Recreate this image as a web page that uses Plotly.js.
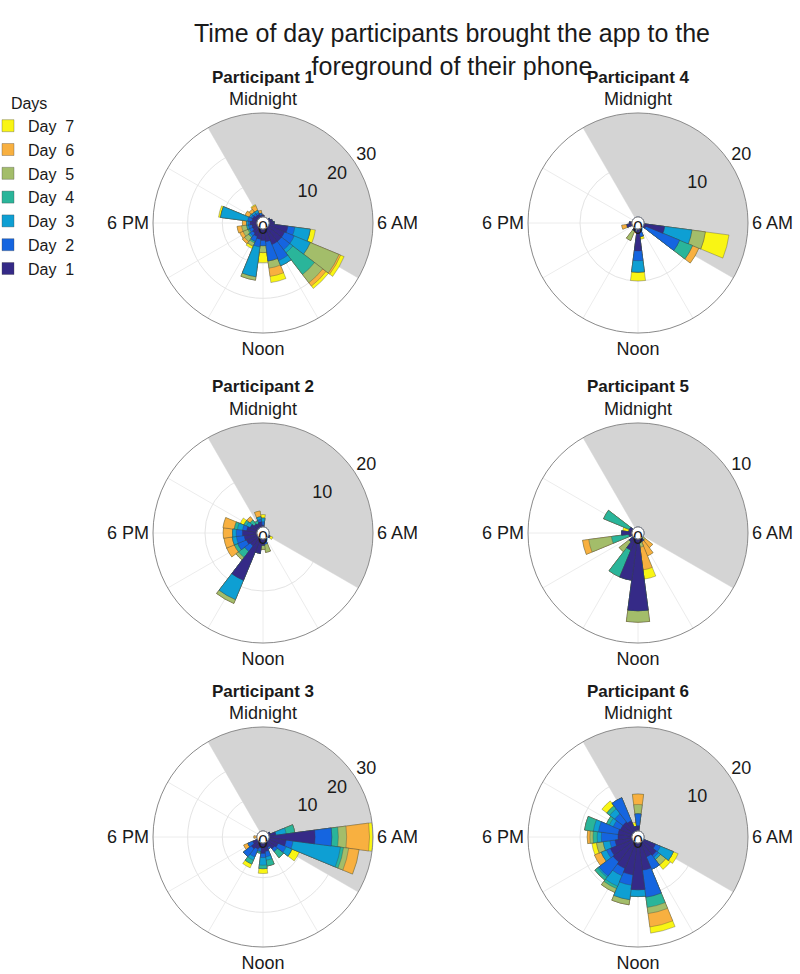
<!DOCTYPE html>
<html>
<head>
<meta charset="utf-8">
<script src="https://cdn.plot.ly/plotly-3.0.1.min.js"></script>
<style>body{margin:0;background:#fff}</style>
</head>
<body>
<div id="myDiv" style="width:800px;height:974px"></div>
<script>
// hour bins (0 = midnight), one bar per hour, stacked by day
var hours = [0,1,2,3,4,5,6,7,8,9,10,11,12,13,14,15,16,17,18,19,20,21,22,23];
var dayNames = ['Day\u00a0\u00a01','Day\u00a0\u00a02','Day\u00a0\u00a03','Day\u00a0\u00a04','Day\u00a0\u00a05','Day\u00a0\u00a06','Day\u00a0\u00a07'];
var dayColors = ['#352a87','#1565e0','#0e9fd3','#2ab59a','#a3bd6a','#f8b040','#f9f514'];
var angleTicks = [0,30,60,90,120,150,180,210,240,270,300,330];
var angleText = ['Midnight','','','6 AM','','','Noon','','','6 PM','',''];
var nightStart = 22, nightEnd = 8;   // shaded night hours
var rLabelAngle = 58;                // where the radial tick labels sit

// rows: day 1 .. day 7, columns: hour 0 .. 23
var p1 = [
  [0.5,0,0,0,0.5,1,1.5,5.5,5,5,5,3.7,3.3,3,2.5,2,1.5,1.5,2,1.5,1.5,1,1,0.5],
  [0,0,0,0,0,0,0,2,3,3,5,5.6,1.5,2.2,1.5,1,1,1,0.5,1.2,0.5,0.7,0.5,0.6],
  [0,0,0,0,0,0,0,4.5,5,1.1,1.6,0,0,8.7,0,0.5,0,0.5,0.5,7.9,0.5,0.6,0.7,0],
  [0,0,0,0,0,0,0,0,0,7.9,0,0,0,0,0.5,0,0.5,0,0,0,0,0,0,0],
  [0,0,0,0,0,0,0,0,9,3,0,2.1,2,1,1,1.5,1.5,1.5,0,0,0,0,0,0],
  [0,0,0,0,0,0,0,0,0.5,1.2,0,2.4,0,0,0,0.8,1,1.3,1.2,0,1.4,1,1.5,0.8],
  [0,0,0,0,0,0,0,1.5,1.1,0.9,0,1.8,2.9,0,0.8,0,0,0,0,0.6,0,0,0.3,0]
];
var p2 = [
  [0.3,0,0,0,0,0,0,0,0.3,0,0,0.5,1.2,2.8,8.7,2,2.3,2.5,2.8,2,1.5,1,0.8,1],
  [0.7,0,0,0,0,0,0,0,0,0,0,0.5,0,0,0,1.3,1.8,1.5,1.2,0.8,0,0,0,0.5],
  [0.7,0,0,0,0,0,0,0,0,0,0,0,0,0,4,0,0,0.8,0.7,1,0.8,0,0,0.5],
  [0,0,0,0,0,0,0,0,0,0,0,0,0,0,0,1.5,0.7,0,0,0.6,0.5,1,0.6,0],
  [0,0,0,0,0,0,0,0,0,0,0,1.6,0.8,0,0.8,0.6,0,0,0,0,0,0,0,0],
  [0,0,0,0,0,0,0,0,0,0,0,0,0,0,0,0,1.6,1.6,1.8,2.2,0,0.8,0,1.1],
  [0.7,0,0,0,0,0,0,0,0.6,0,0,0,0,0,0,0,0,0,0,0,0.8,0,0,0]
];
var p3 = [
  [0,0,0,0,0.5,2,13.3,5,3,2.5,1.5,2.5,3,1.5,2,2.5,1.5,0,0,0,0,0,0,0],
  [0,0,0,0,0,0,4.8,2,2.5,1,0.5,1.5,1.2,1,2.5,2.9,1.5,0,0,0,0,0,0,0],
  [0,0,0,0,0,3,0,13.8,1.8,0,0,1,2.2,0,1,0,0,0,0,0,0,0,0,0],
  [0,0,0,0,0,2.5,1.9,0.9,0,2.3,0,1.7,1,0.5,1.2,0,0,0,0,0,0,0,0,0],
  [0,0,0,0,0,0,2.4,1.5,0,0,0,0,0,0,0,0,0,0,0,0,0,0,0,0],
  [0,0,0,0,0,0,6.6,3,0,0,0,0,0,0,0,0,1.3,0,0.9,0,0,0,0,0],
  [0,0,0,0,0,0,1,0,2.3,0,0,0,1.4,0,1.2,0,0,0,0,0,0,0,0,0]
];
var p4 = [
  [0,0,0,0,0,0,0,4,0.5,0,0,0.3,4.2,0,0.5,0,0,1,0.5,0,0,0,0,0],
  [0,0,0,0,0,0,0,0,7,0,0,1.2,1.9,0,0,0,0,0,0,0,0,0,0,0],
  [0,0,0,0,0,0,0,5.3,0,0,0,0,2.2,0,0,0,0,0,0,0,0,0,0,0],
  [0,0,0,0,0,0,0,0,2.7,0,0,0,0,0,0,0,0,0,0,0,0,0,0,0],
  [0,0,0,0,0,0,0,2.6,0,0,0,0,0,0,2,0,0,0,0,0,0,0,0,0],
  [0,0,0,0,0,0,0,0,1.3,0,0,0,0,0,0,0,0,1,0,0,0,0,0,0],
  [0,0,0,0,0,0,0,4.6,0,0,0,0.5,1.7,0,0,0,0,0,0,0,0,0,0,0]
];
var p5 = [
  [0,0,0,0,0,0,0,0,0,0,0.3,0.3,6.9,4,1.2,0.5,0,0.3,1,0.3,0.3,0,0,0],
  [0,0,0,0,0,0,0,0,0,0,0,0,0,0,0,0,0,0,0,0,0,0,0,0],
  [0,0,0,0,0,0,0,0,0,0,0,0,0,0,0,0,0,0,0,0,0,0,0,0],
  [0,0,0,0,0,0,0,0,0,0,0,0,0,0,2.8,0,0,1.7,0,0,2.7,0,0,0],
  [0,0,0,0,0,0,0,0,0,0.3,0,0.5,1.1,0,0,1.2,0,2.2,0,0,0,0,0,0],
  [0,0,0,0,0,0,0,0,0,0.9,1.5,2.2,0,0,0,0,0,0.6,0,0,0,0,0,0],
  [0,0,0,0,0,0,0,0,0,0,0,0.9,0,0,0,0,0,0,0,0.6,0,0,0,0]
];
var p6 = [
  [1,0,0,0,0,0,0,0,2.5,3.3,3,5.3,9,6.2,5.4,4.9,4.6,3.3,2.7,2.7,2.5,2.5,2.2,0.9],
  [2.3,0,0,0,0,0,0,0,1,0.5,2.6,5.2,0,2,1.5,3.4,0.8,1,3.2,3.8,1.5,2,4.8,0],
  [0,0,0,0,0,0,0,0,2.7,0.5,0,0,1.3,2.8,2.2,0.3,1.1,1.3,0.8,1,0.8,1.2,0,0],
  [0,0,0,0,0,0,0,0,0,0,0,2,0,0,0.5,0.7,0,0,0.8,1.7,0.6,0.7,0,0],
  [1.8,0,0,0,0,0,0,0,0,1.3,0,1.2,0,1,0.8,0,0,1.3,0.6,0,0,0,0,0],
  [2,0,0,0,0,0,0,0,0,0,0,2.6,0,0,0,0,1.4,0,0.5,0,0,0,0,0],
  [0,0,0,0,0,0,0,0,1,1.1,0,1.2,0,0,0,0,0,0.9,0,0,0,1.2,0,0.8]
];

var participants = [p1, p2, p3, p4, p5, p6];
var titles = ['Participant 1','Participant 2','Participant 3','Participant 4','Participant 5','Participant 6'];
var rMax = [30, 20, 30, 20, 10, 20];
var centers = [[263,223],[263,533],[263,837],[638,223],[638,533],[638,837]];
var radius = 110, W = 800, H = 974;

var theta = hours.map(function(h){ return h * 15; });
var nightSpan = ((nightEnd - nightStart + 24) % 24) * 15;
var nightMid = nightStart * 15 + nightSpan / 2;

var data = [], annotations = [], layout = {};

participants.forEach(function(p, i){
  var sub = i === 0 ? 'polar' : 'polar' + (i + 1);

  // night shading
  data.push({type:'barpolar', subplot:sub, r:[rMax[i]], theta:[nightMid], width:[nightSpan],
    marker:{color:'#d4d4d4', line:{width:0}}, showlegend:false, hoverinfo:'skip'});

  // cumulative totals, drawn from day 7 down to day 1
  var cum = [];
  p.forEach(function(row, d){
    cum.push(row.map(function(v, h){ return (d ? cum[d-1][h] : 0) + v; }));
  });
  for (var d = 6; d >= 0; d--) {
    data.push({type:'barpolar', subplot:sub, r:cum[d], theta:theta, width:15,
      name:dayNames[d], legendgroup:'d'+d, showlegend:i === 0,
      marker:{color:dayColors[d], line:{color:'rgba(60,60,60,0.55)', width:0.6}},
      hoverinfo:'skip'});
  }

  // centre ring
  var ringT = [], ringR = [];
  for (var a = 0; a <= 360; a += 5) { ringT.push(a); ringR.push(0); }
  data.push({type:'scatterpolar', subplot:sub, r:ringR, theta:ringT, mode:'lines',
    line:{color:'#3a4a70', width:1}, cliponaxis:false, showlegend:false, hoverinfo:'skip'});

  // radial tick labels (0 sits just under the centre)
  var rt = [10,20,30].filter(function(t){ return t <= rMax[i]; });
  data.push({type:'scatterpolar', subplot:sub, r:rt, theta:rt.map(function(){ return rLabelAngle; }),
    mode:'text', text:rt.map(String), textposition:'top right', cliponaxis:false,
    textfont:{size:18, color:'#1a1a1a'}, showlegend:false, hoverinfo:'skip'});
  data.push({type:'scatterpolar', subplot:sub, r:[0], theta:[180], mode:'text', text:['0'],
    textposition:'middle center', cliponaxis:false, textfont:{size:18, color:'#1a1a1a'},
    showlegend:false, hoverinfo:'skip'});

  var cx = centers[i][0], cy = centers[i][1];
  layout[sub] = {
    domain:{x:[(cx-radius)/W, (cx+radius)/W], y:[1-(cy+radius)/H, 1-(cy-radius)/H]},
    hole:0.055, barmode:'overlay', bargap:0, bgcolor:'#fff',
    angularaxis:{direction:'clockwise', rotation:90, tickmode:'array',
      tickvals:angleTicks, ticktext:angleText, ticks:'', showline:true,
      linecolor:'#8a8a8a', linewidth:1, gridcolor:'#ececec',
      tickfont:{size:18, color:'#1a1a1a'}},
    radialaxis:{range:[0, rMax[i]], tickmode:'array', tickvals:[10,20,30], angle:30,
      showline:false, showticklabels:false, ticks:'', gridcolor:'#e4e4e4'}
  };
  annotations.push({text:'<b>' + titles[i] + '</b>', x:cx/W, y:1-(cy-146)/H,
    xref:'paper', yref:'paper', showarrow:false, xanchor:'center', yanchor:'middle',
    font:{size:17, color:'#1a1a1a'}});
});

layout.width = W;
layout.height = H;
layout.margin = {l:0, r:0, t:0, b:0, autoexpand:false};
layout.paper_bgcolor = '#fff';
layout.font = {family:'Liberation Sans, Arial, sans-serif', color:'#1a1a1a'};
layout.title = {text:'Time of day participants brought the app to the<br>foreground of their phone',
  x:452/W, xanchor:'center', y:1-42/H, yanchor:'top', yref:'container',
  font:{size:25, color:'#1a1a1a'}};
layout.annotations = annotations;
layout.legend = {x:0, y:1-88/H, xanchor:'left', yanchor:'top', bgcolor:'rgba(0,0,0,0)',
  indentation:-12, title:{text:'\u00a0\u00a0Days', font:{size:16}}, font:{size:16},
  itemwidth:30, tracegroupgap:0};

Plotly.newPlot('myDiv', data, layout, {displayModeBar:false, staticPlot:true});
</script>
</body>
</html>
